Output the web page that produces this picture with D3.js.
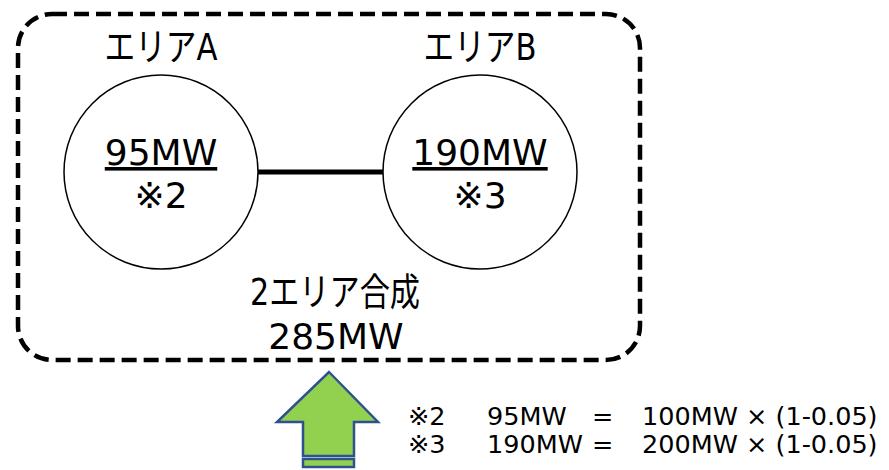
<!DOCTYPE html>
<html>
<head>
<meta charset="utf-8">
<script src="https://cdn.jsdelivr.net/npm/d3@7"></script>
<style>
  body { margin: 0; background: #fff; }
  text { font-family: "DejaVu Sans", "Noto Sans CJK JP", sans-serif; fill: #000; }
</style>
</head>
<body>
<script>
// area data
var areas = ["エリアA", "エリアB"];
var areaMW = [95, 190];
var noteMarks = ["※2", "※3"];
var baseMW = [100, 200];
var lossRate = 0.05;
var totalLabel = "2エリア合成";
var totalMW = d3.sum(areaMW);

window.onload = function(){
    var w = 889, h = 470;
    var svg = d3.select("body")
        .append("svg")
        .attr("width", w)
        .attr("height", h);

    // position of each area circle
    var x = d3.scalePoint()
        .domain(areas)
        .range([161, 480]);
    var r = 97, cy = 172;

    // dashed outline round both areas
    svg.append("rect")
        .attr("x", 18)
        .attr("y", 14)
        .attr("width", 622)
        .attr("height", 346)
        .attr("rx", 34)
        .attr("ry", 34)
        .style("fill", "none")
        .style("stroke", "#000")
        .style("stroke-width", 4.5)
        .style("stroke-dasharray", "15,7");

    // link between the two areas
    svg.append("line")
        .attr("x1", x(areas[0]) + r)
        .attr("x2", x(areas[1]) - r)
        .attr("y1", cy)
        .attr("y2", cy)
        .style("stroke", "#000")
        .style("stroke-width", 5);

    var nodes = svg.selectAll(".node")
        .data(areas)
        .enter()
        .append("g")
        .attr("class", "node")
        .attr("transform", function(d){
            return "translate(" + x(d) + ",0)";
        });

    nodes.append("circle")
        .attr("cy", cy)
        .attr("r", r)
        .style("fill", "#fff")
        .style("stroke", "#000")
        .style("stroke-width", 1.5);

    //kana in the reference are narrow, so squeeze to the measured width
    nodes.append("text")
        .attr("text-anchor", "middle")
        .attr("y", 60)
        .attr("textLength", 113)
        .attr("lengthAdjust", "spacingAndGlyphs")
        .style("font-size", "38px")
        .text(function(d){ return d; });

    nodes.append("text")
        .attr("text-anchor", "middle")
        .attr("y", 165)
        .style("font-size", "36px")
        .style("text-decoration", "underline")
        .text(function(d, i){ return areaMW[i] + "MW"; });

    nodes.append("text")
        .attr("text-anchor", "middle")
        .attr("y", 208)
        .style("font-size", "36px")
        .text(function(d, i){ return noteMarks[i]; });

    // combined total
    svg.append("text")
        .attr("text-anchor", "middle")
        .attr("x", 335)
        .attr("y", 305)
        .attr("textLength", 170)
        .attr("lengthAdjust", "spacingAndGlyphs")
        .style("font-size", "38px")
        .text(totalLabel);
    svg.append("text")
        .attr("text-anchor", "middle")
        .attr("x", 336)
        .attr("y", 349)
        .style("font-size", "36px")
        .text(totalMW + "MW");

    // green arrow pointing up
    var arrow = [[329, 372], [378, 422], [354, 422], [354, 456], [303, 456], [303, 422], [277, 422]];
    svg.append("path")
        .attr("d", d3.line()(arrow) + "Z")
        .style("fill", "#92D050")
        .style("stroke", "#2F528F")
        .style("stroke-width", 2.5);
    svg.append("rect")
        .attr("x", 303)
        .attr("y", 459)
        .attr("width", 51)
        .attr("height", 8)
        .style("fill", "#92D050")
        .style("stroke", "#2F528F")
        .style("stroke-width", 2.5);

    // footnotes
    var notes = svg.selectAll(".note")
        .data(areas)
        .enter()
        .append("g")
        .attr("class", "note")
        .attr("transform", function(d, i){
            return "translate(0," + (425 + i * 28) + ")";
        })
        .style("font-size", "25.5px");
    notes.append("text").attr("x", 408).text(function(d, i){ return noteMarks[i]; });
    notes.append("text").attr("x", 487).text(function(d, i){ return areaMW[i] + "MW"; });
    notes.append("text").attr("x", 592).text("=");
    notes.append("text").attr("x", 642).text(function(d, i){
        return baseMW[i] + "MW × (1-" + lossRate.toFixed(2) + ")";
    });
};
</script>
</body>
</html>
